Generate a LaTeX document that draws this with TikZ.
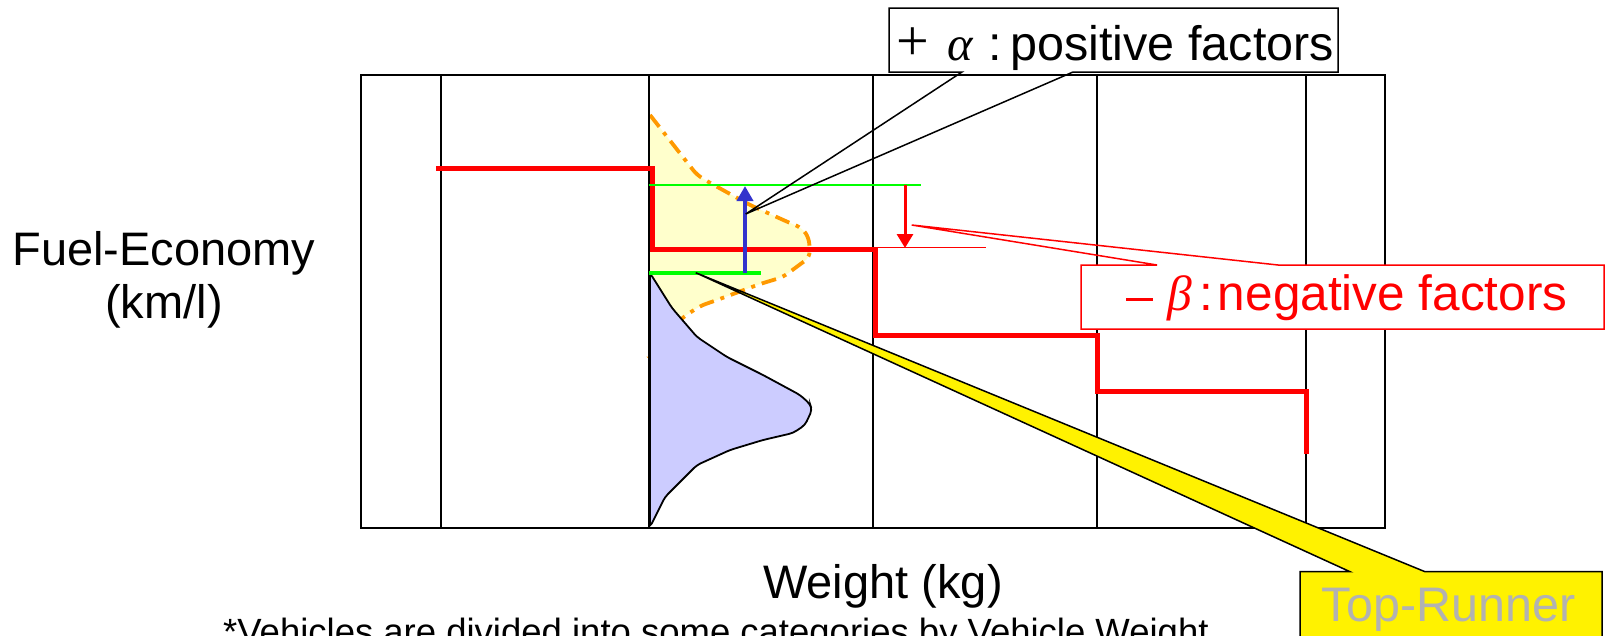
\documentclass[tikz,border=0pt]{standalone}
\usepackage{fontspec}
\setmainfont{Liberation Sans}
\newfontfamily\greekfont{Liberation Serif}
\usetikzlibrary{arrows.meta}

\definecolor{paleyellow}{HTML}{FFFFCC}
\definecolor{paleblue}{HTML}{CCCCFF}
\definecolor{distorange}{HTML}{FF9900}
\definecolor{barblue}{HTML}{3333CC}
\definecolor{bargreen}{HTML}{00FF00}
\definecolor{runnergray}{HTML}{B2B2B2}

\newcommand{\signfont}{\greekfont\fontsize{58}{60}\selectfont}

\begin{document}
\begin{tikzpicture}[x=1pt,y=-1pt,
        frameline/.style={line width=1.6pt},
        stepline/.style={red, line width=5pt},
        axislabel/.style={font=\fontsize{47}{53}\selectfont, anchor=base, inner sep=0pt},
        boxlabel/.style={font=\fontsize{48.5}{54}\selectfont, anchor=base west, inner sep=0pt},
        callout/.style={line width=1.5pt, line join=miter}]
        \useasboundingbox (0,0) rectangle (1608,635);

        % distributions
        \draw[fill=paleyellow, draw=distorange, line width=3.8pt, rounded corners=6pt,
              dash pattern=on 15pt off 7pt on 4pt off 7pt]
            (650,115) -- (697,175) -- (712,184) -- (750,205) -- (790,223) -- (802,228)
            -- (809,238) -- (810,257) -- (783,277) -- (760,284) -- (717,300) -- (700,306)
            -- (682,318) -- (648,358);
        \draw[fill=paleblue, line width=1.8pt, rounded corners=4pt]
            (650,273) -- (672,308) -- (697,337) -- (727,357) -- (763,375) -- (800,395)
            -- (810,404) -- (812,410) -- (805,425) -- (793,433) -- (763,440) -- (730,450)
            -- (697,465) -- (665,497) -- (650,527) -- cycle;

        % frame
        \draw[frameline] (361,75) rectangle (1385,528);
        \foreach \x in {441,649,873,1097,1306} {
            \draw[frameline] (\x,75) -- (\x,528);
        }

        % top-runner steps
        \draw[stepline] (436,168.5) -- (652,168.5) -- (652,249) -- (875,249) -- (875,335)
            -- (1097,335) -- (1097,391.5) -- (1306.5,391.5) -- (1306.5,454);
        \draw[red, line width=1.5pt] (873,247.5) -- (986,247.5);

        % alpha and beta
        \coordinate (highbar) at (745,186);
        \coordinate (lowbar) at (745,272.7);
        \draw[bargreen, line width=2pt] (649,185) -- (921,185);
        \draw[bargreen, line width=4pt] (649,272.7) -- (761,272.7);
        \draw[-{Triangle[width=16pt,length=15pt]}, barblue, line width=4pt] (lowbar) -- (highbar);
        \draw[-{Triangle[width=16pt,length=14pt]}, red, line width=3pt] (905,185) -- (905,248);

        % callouts
        \coordinate (alphatip) at (745.7,214);
        \coordinate (betatip) at (911.7,225);
        \coordinate (runnertip) at (695.7,272.7);

        \draw[callout] (962,72) -- (alphatip) -- (1073,72) -- (1338,72) -- (1338,8)
            -- (889,8) -- (889,72) -- cycle;
        \node[boxlabel] (posfac) at (896,60)
            {{\signfont +}\hspace{0.38em}{\greekfont\itshape α}\hspace{0.33em}:\hspace{0.17em}positive factors};

        \fill[white] (1081,265) rectangle (1604,329);
        \draw[callout, red] (1157,265) -- (betatip) -- (1278,265) -- (1604,265) -- (1604,329)
            -- (1081,329) -- (1081,265) -- cycle;
        \node[boxlabel, red, font=\fontsize{49.5}{54}\selectfont] (negfac) at (1124,310)
            {\hspace{2pt}\rule[9pt]{27pt}{2.6pt}\hspace{14pt}{\greekfont\itshape β}\hspace{0.15em}:\hspace{0.1em}negative factors};

        \draw[callout, fill=yellow] (1350,571.7) -- (runnertip) -- (1425,571.7) -- (1602,571.7)
            -- (1602,650) -- (1300,650) -- (1300,571.7) -- cycle;
        \node[boxlabel, anchor=base, text=runnergray] (runner) at (1448.5,621.7) {Top-Runner};

        % axis texts
        \node[axislabel] (fuel) at (164,265) {Fuel-Economy};
        \node[axislabel] (kml) at (164,318) {(km/l)};
        \node[axislabel] (weight) at (883,598) {Weight (kg)};
        \node[font=\fontsize{36.5}{40}\selectfont, anchor=base west, inner sep=0pt] (note)
            at (223,644) {*Vehicles are divided into some categories by Vehicle Weight};
    \end{tikzpicture}
\end{document}
